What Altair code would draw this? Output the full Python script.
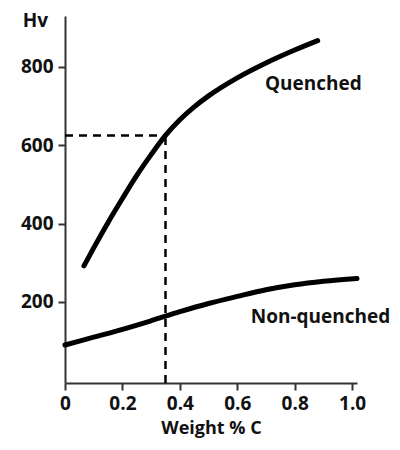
import altair as alt
import pandas as pd

q_x = [0.066, 0.1, 0.15, 0.2, 0.25, 0.3, 0.35, 0.4, 0.45, 0.5, 0.6, 0.7, 0.8, 0.88]
q_y = [292, 338, 403, 464, 523, 576, 625, 665, 698, 726, 772, 810, 843, 867]
n_x = [0.0, 0.1, 0.2, 0.3, 0.4, 0.5, 0.6, 0.7, 0.8, 0.9, 1.017]
n_y = [90, 110, 130, 152, 175, 196, 214, 231, 244, 253, 260]

mark_x = 0.35
mark_y = 625

label_text = ["Quenched", "Non-quenched"]
label_x = [0.865, 0.89]
label_y = [756, 162]

x_ticks = [0, 0.2, 0.4, 0.6, 0.8, 1.0]
y_ticks = [200, 400, 600, 800]

FONT = "Open Sans"
FS = 19
x_dom = [0, 1.017]
y_dom = [-7, 930]

df = pd.DataFrame(
    {"x": q_x + n_x,
     "y": q_y + n_y,
     "s": ["Quenched"] * len(q_x) + ["Non-quenched"] * len(n_x)}
)

xs = alt.Scale(domain=x_dom, nice=False, zero=False)
ys = alt.Scale(domain=y_dom, nice=False, zero=False)

x_axis = alt.Axis(
    title="Weight % C", values=x_ticks, grid=False,
    labelExpr="datum.value == 0 ? '0' : format(datum.value, '.1f')",
    labelFont=FONT, labelFontSize=FS, labelFontWeight="bold", labelColor="#111",
    titleFont=FONT, titleFontSize=18, titleFontWeight="bold", titleColor="#111",
    domainColor="#333", domainWidth=2, tickColor="#333", tickWidth=2, tickSize=7,
    labelPadding=4, titlePadding=6, labelFlush=False,
)
y_axis = alt.Axis(
    title="Hv", values=y_ticks, grid=False,
    labelFont=FONT, labelFontSize=FS, labelFontWeight="bold", labelColor="#111",
    titleFont=FONT, titleFontSize=FS, titleFontWeight="bold", titleColor="#111",
    titleAngle=0, titleX=-30, titleY=4, titleAlign="center", titleBaseline="middle",
    domainColor="#333", domainWidth=2, tickColor="#333", tickWidth=2, tickSize=7,
    labelPadding=5,
)

lines = alt.Chart(df).mark_line(
    color="black", strokeWidth=5, strokeCap="round", interpolate="monotone"
).encode(
    x=alt.X("x:Q", scale=xs, axis=x_axis),
    y=alt.Y("y:Q", scale=ys, axis=y_axis),
    detail="s:N",
)

hdf = pd.DataFrame({"x": [0.0], "x2": [mark_x], "y": [mark_y]})
hrule = alt.Chart(hdf).mark_rule(color="black", strokeWidth=2.5, strokeDash=[8, 6]).encode(
    x=alt.X("x:Q", scale=xs), x2="x2:Q", y=alt.Y("y:Q", scale=ys)
)
vdf = pd.DataFrame({"x": [mark_x], "y": [y_dom[0]], "y2": [mark_y]})
vrule = alt.Chart(vdf).mark_rule(color="black", strokeWidth=2.5, strokeDash=[8, 6]).encode(
    x=alt.X("x:Q", scale=xs), y=alt.Y("y:Q", scale=ys), y2="y2:Q"
)

ldf = pd.DataFrame({"t": label_text, "x": label_x, "y": label_y})
labels = alt.Chart(ldf).mark_text(
    font=FONT, fontSize=FS, fontWeight="bold", color="#111", align="center", baseline="middle"
).encode(
    x=alt.X("x:Q", scale=xs), y=alt.Y("y:Q", scale=ys), text="t:N"
)

chart = alt.layer(hrule, vrule, lines, labels).properties(
    width=292, height=367,
    autosize=alt.AutoSizeParams(type="none"),
    padding={"left": 57, "top": 8, "right": 35, "bottom": 59},
).configure_view(stroke=None)

chart.save("out.html", embed_options={"renderer": "svg", "actions": False})
